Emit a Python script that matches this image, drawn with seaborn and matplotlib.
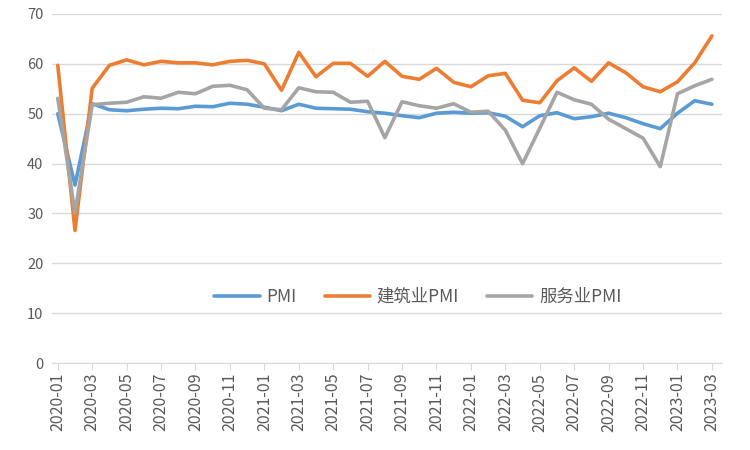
"""China PMI lines, 2020-01 .. 2023-03"""

import pandas as pd
import seaborn as sns
import matplotlib
matplotlib.use("Agg")
import matplotlib.pyplot as plt

months = [f"{y}-{m:02d}" for y in (2020, 2021, 2022) for m in range(1, 13)] + \
    ["2023-01", "2023-02", "2023-03"]

pmi = [50.0, 35.7, 52.0, 50.8, 50.6, 50.9, 51.1, 51.0, 51.5, 51.4, 52.1, 51.9,
       51.3, 50.6, 51.9, 51.1, 51.0, 50.9, 50.4, 50.1, 49.6, 49.2, 50.1, 50.3,
       50.1, 50.2, 49.5, 47.4, 49.6, 50.2, 49.0, 49.4, 50.1, 49.2, 48.0, 47.0,
       50.1, 52.6, 51.9]
construction_pmi = [59.7, 26.6, 55.1, 59.7, 60.8, 59.8, 60.5, 60.2, 60.2, 59.8, 60.5, 60.7,
                    60.0, 54.7, 62.3, 57.4, 60.1, 60.1, 57.5, 60.5, 57.5, 56.9, 59.1, 56.3,
                    55.4, 57.6, 58.1, 52.7, 52.2, 56.6, 59.2, 56.5, 60.2, 58.2, 55.4, 54.4,
                    56.4, 60.2, 65.6]
services_pmi = [53.1, 30.1, 51.8, 52.1, 52.3, 53.4, 53.1, 54.3, 54.0, 55.5, 55.7, 54.8,
                51.1, 50.8, 55.2, 54.4, 54.3, 52.3, 52.5, 45.2, 52.4, 51.6, 51.1, 52.0,
                50.3, 50.5, 46.7, 40.0, 47.1, 54.3, 52.8, 51.9, 48.9, 47.0, 45.1, 39.4,
                54.0, 55.6, 56.9]

series_names = ["PMI", "建筑业PMI", "服务业PMI"]
colors = ["#5B9BD5", "#ED7D31", "#A5A5A5"]

df = pd.concat([
    pd.DataFrame({"idx": range(len(months)), "month": months, "value": vals, "series": name})
    for name, vals in zip(series_names, [pmi, construction_pmi, services_pmi])
])

sns.set_style("white")
plt.rcParams["font.family"] = ["Noto Sans CJK SC", "DejaVu Sans"]

fig = plt.figure(figsize=(7.5, 4.5), dpi=100)
ax = fig.add_axes([0.069, 0.193, 0.894, 0.776])

sns.lineplot(data=df, x="idx", y="value", hue="series", palette=colors,
             linewidth=2.6, ax=ax)

ax.set_ylim(0, 70)
ax.set_yticks(range(0, 71, 10))
ax.set_xlim(-0.35, len(months) - 1 + 0.6)
ax.set_xticks(range(0, len(months), 2))
ax.set_xticklabels(months[::2], rotation=90)
ax.set_xlabel("")
ax.set_ylabel("")

ax.grid(axis="y", color="#d9d9d9", linewidth=1)
ax.set_axisbelow(True)
for side in ("top", "right", "left"):
    ax.spines[side].set_visible(False)
ax.spines["bottom"].set_color("#d9d9d9")
ax.tick_params(axis="x", colors="#595959", labelsize=11.5, length=5,
               color="#d9d9d9", direction="out", bottom=True, pad=2)
ax.tick_params(axis="y", colors="#595959", labelsize=10.5, length=0, pad=6)

ax.legend(loc="center", bbox_to_anchor=(0.546, 0.19), ncol=3, frameon=False,
          fontsize=12.5, handlelength=2.6, handletextpad=0.4, columnspacing=1.6,
          labelcolor="#595959")

fig.savefig("out.png", dpi=100)
